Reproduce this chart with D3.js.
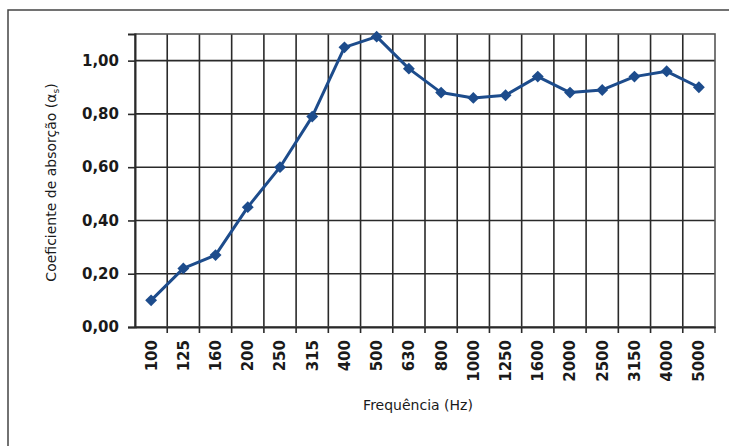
<!DOCTYPE html>
<html>
<head>
<meta charset="utf-8">
<script src="https://cdn.jsdelivr.net/npm/d3@7"></script>
<style>
  body { margin: 0; background: #fff; }
  text { font-family: "DejaVu Sans", sans-serif; fill: #1a1a1a; }
</style>
</head>
<body>
<svg width="729" height="446"></svg>
<script>
// frequency bands (Hz) and absorption coefficient
const frequencies = ['100', '125', '160', '200', '250', '315', '400', '500', '630', '800',
  '1000', '1250', '1600', '2000', '2500', '3150', '4000', '5000']
const alphaS = [0.10, 0.22, 0.27, 0.45, 0.60, 0.79, 1.05, 1.09, 0.97, 0.88,
  0.86, 0.87, 0.94, 0.88, 0.89, 0.94, 0.96, 0.90]
const yTicks = [0, 0.2, 0.4, 0.6, 0.8, 1.0]

const svg = d3.select('svg')
const margin = {top: 34, right: 14, bottom: 119, left: 135}
const width = 729 - margin.left - margin.right
const height = 446 - margin.top - margin.bottom

// outer frame (cut off at the bottom and right)
svg.append('path')
  .attr('d', 'M8,446 L8,10 L729,10')
  .attr('fill', 'none')
  .attr('stroke', '#444')
  .attr('stroke-width', 1.5)

const g = svg.append('g').attr('transform', 'translate(' + margin.left + ',' + margin.top + ')')

const x = d3.scaleBand().domain(frequencies).range([0, width])
const y = d3.scaleLinear().domain([0, 1.1]).range([height, 0])

// horizontal grid
g.append('g')
  .selectAll('line')
  .data(yTicks.slice(1))
  .enter().append('line')
  .attr('x1', 0).attr('x2', width)
  .attr('y1', d => y(d)).attr('y2', d => y(d))
  .attr('stroke', '#2a2a2a').attr('stroke-width', 1.6)

// vertical grid at band boundaries
g.append('g')
  .selectAll('line')
  .data(frequencies.slice(1))
  .enter().append('line')
  .attr('x1', d => x(d)).attr('x2', d => x(d))
  .attr('y1', 0).attr('y2', height + 6)
  .attr('stroke', '#2a2a2a').attr('stroke-width', 1.6)

// plot border
g.append('rect')
  .attr('width', width).attr('height', height)
  .attr('fill', 'none')
  .attr('stroke', '#555').attr('stroke-width', 1.6)
g.append('line')
  .attr('x1', width).attr('x2', width)
  .attr('y1', height).attr('y2', height + 6)
  .attr('stroke', '#555').attr('stroke-width', 1.6)

// y axis
const yAxis = g.append('g')
  .call(d3.axisLeft(y).tickValues(yTicks).tickSize(7).tickPadding(9)
    .tickFormat(d => d3.format('.2f')(d).replace('.', ',')))
yAxis.select('.domain').attr('stroke', '#2a2a2a').attr('stroke-width', 2)
yAxis.selectAll('.tick line').attr('stroke', '#2a2a2a').attr('stroke-width', 1.6)
yAxis.selectAll('text')
  .style('font-size', '15px')
  .style('font-weight', 'bold')
  .attr('fill', '#1a1a1a')

// x axis
const xAxis = g.append('g')
  .attr('transform', 'translate(0,' + height + ')')
  .call(d3.axisBottom(x).tickSize(0).tickPadding(0))
xAxis.select('.domain').attr('stroke', '#2a2a2a').attr('stroke-width', 2)
xAxis.selectAll('text')
  .style('font-size', '15px')
  .style('font-weight', 'bold')
  .attr('fill', '#1a1a1a')
  .attr('text-anchor', 'end')
  .attr('transform', 'rotate(-90)')
  .attr('x', -13)
  .attr('y', 0)
  .attr('dy', '0.36em')

// axis titles
g.append('text')
  .attr('x', width / 2 - 7)
  .attr('y', height + 83)
  .attr('text-anchor', 'middle')
  .style('font-size', '14px')
  .text('Frequência (Hz)')

const yTitle = g.append('text')
  .attr('transform', 'translate(-79,' + (height / 2 + 2) + ') rotate(-90)')
  .attr('text-anchor', 'middle')
  .style('font-size', '14px')
yTitle.append('tspan').text('Coeficiente de absorção (α')
yTitle.append('tspan').text('s').style('font-size', '9px').attr('dy', 3)
yTitle.append('tspan').text(')').attr('dy', -3)

// series
const line = d3.line()
  .x((d, i) => x(frequencies[i]) + x.bandwidth() / 2)
  .y(d => y(d))

g.append('path')
  .datum(alphaS)
  .attr('d', line)
  .attr('fill', 'none')
  .attr('stroke', '#1d4c8c')
  .attr('stroke-width', 3)
  .attr('stroke-linejoin', 'round')

g.append('g')
  .selectAll('path')
  .data(alphaS)
  .enter().append('path')
  .attr('transform', (d, i) => 'translate(' + (x(frequencies[i]) + x.bandwidth() / 2) + ',' + y(d) + ')')
  .attr('d', d3.symbol().type(d3.symbolDiamond2).size(90))
  .attr('fill', '#1d4c8c')
</script>
</body>
</html>
